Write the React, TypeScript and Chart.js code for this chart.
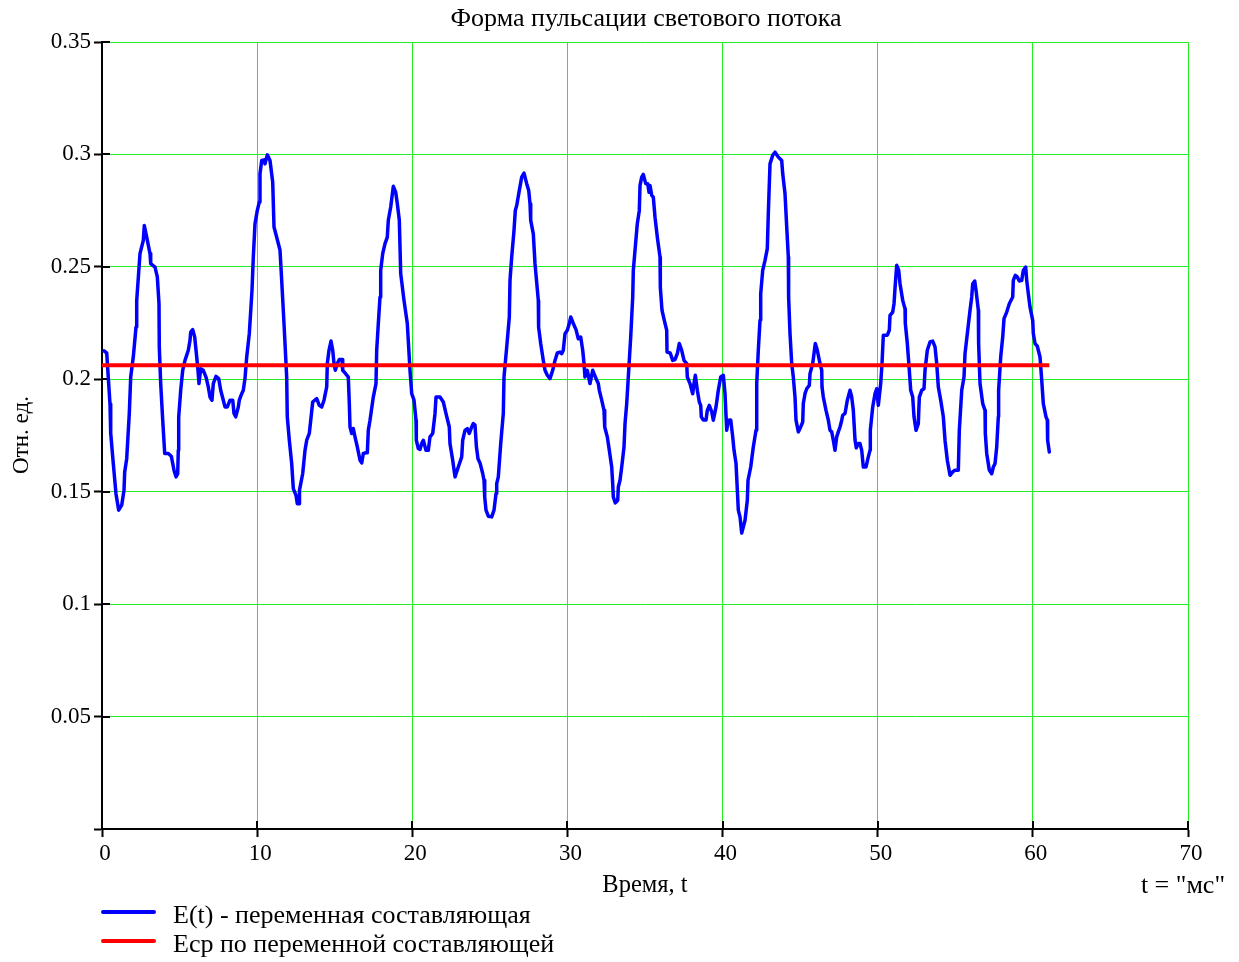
import React, { useEffect, useRef } from "react";
import { Chart, registerables } from "chart.js";

Chart.register(...registerables);

const TITLE = "Форма пульсации светового потока";
const X_TITLE = "Время, t";
const Y_TITLE = "Отн. ед.";
const UNITS_NOTE = 't = "мс"';
const SERIES_LABELS = ["E(t) - переменная составляющая", "Eср по переменной составляющей"];
const X_TICKS = [0, 10, 20, 30, 40, 50, 60, 70];
const Y_TICKS = [0, 0.05, 0.1, 0.15, 0.2, 0.25, 0.3, 0.35];

// time, ms
const T_MS = [
  0.129, 0.303, 0.516, 0.561, 0.728, 0.902, 1.076, 1.27, 1.418, 1.463, 1.592, 1.76, 1.85, 2.018, 2.192, 2.237,
  2.449, 2.662, 2.727, 2.881, 3.094, 3.139, 3.416, 3.565, 3.674, 3.693, 3.784, 3.913, 4.042, 4.274, 4.467, 4.641,
  4.77, 4.879, 4.918, 4.944, 5.073, 5.202, 5.35, 5.563, 5.672, 5.717, 5.846, 5.975, 6.104, 6.188, 6.252, 6.362,
  6.53, 6.704, 6.852, 6.961, 7.09, 7.174, 7.348, 7.522, 7.651, 7.819, 7.928, 8.077, 8.251, 8.425, 8.509, 8.618,
  8.786, 8.85, 9.005, 9.108, 9.217, 9.327, 9.495, 9.669, 9.753, 9.862, 10.01, 10.139, 10.184, 10.294, 10.442, 10.507,
  10.655, 10.829, 11.003, 11.087, 11.473, 11.582, 11.731, 11.904, 11.943, 12.073, 12.228, 12.331, 12.505, 12.589, 12.718, 12.731,
  12.937, 13.085, 13.195, 13.362, 13.581, 13.839, 14.007, 14.162, 14.31, 14.484, 14.523, 14.632, 14.761, 14.871, 14.954, 15.038,
  15.167, 15.296, 15.47, 15.515, 15.663, 15.876, 15.941, 15.986, 16.095, 16.198, 16.308, 16.456, 16.63, 16.74, 16.843, 17.017,
  17.101, 17.165, 17.275, 17.487, 17.661, 17.706, 17.81, 17.919, 17.964, 18.093, 18.242, 18.39, 18.454, 18.609, 18.777, 18.931,
  19.035, 19.164, 19.254, 19.466, 19.679, 19.853, 19.963, 20.111, 20.24, 20.26, 20.389, 20.498, 20.607, 20.711, 20.884, 21.033,
  21.142, 21.316, 21.464, 21.529, 21.787, 22.0, 22.174, 22.386, 22.431, 22.605, 22.754, 22.966, 23.186, 23.25, 23.398, 23.547,
  23.675, 23.83, 23.933, 24.043, 24.133, 24.236, 24.365, 24.539, 24.623, 24.668, 24.752, 24.9, 25.119, 25.268, 25.397, 25.441,
  25.545, 25.7, 25.867, 25.912, 26.087, 26.254, 26.299, 26.409, 26.557, 26.641, 26.731, 26.899, 27.053, 27.201, 27.375, 27.504,
  27.588, 27.633, 27.801, 27.91, 28.123, 28.142, 28.277, 28.445, 28.555, 28.703, 28.877, 29.051, 29.199, 29.347, 29.522, 29.631,
  29.734, 29.844, 29.992, 30.121, 30.211, 30.379, 30.553, 30.701, 30.856, 30.985, 31.069, 31.133, 31.281, 31.455, 31.629, 31.713,
  31.842, 31.99, 32.055, 32.21, 32.358, 32.403, 32.57, 32.699, 32.854, 32.918, 32.957, 33.086, 33.241, 33.28, 33.389, 33.499,
  33.647, 33.712, 33.821, 33.924, 34.079, 34.208, 34.247, 34.356, 34.504, 34.633, 34.679, 34.788, 34.891, 35.046, 35.175, 35.259,
  35.323, 35.433, 35.536, 35.645, 35.794, 35.968, 35.987, 36.096, 36.245, 36.399, 36.419, 36.625, 36.786, 36.934, 37.083, 37.211,
  37.366, 37.515, 37.689, 37.727, 37.901, 38.075, 38.159, 38.243, 38.372, 38.501, 38.591, 38.63, 38.759, 38.933, 39.017, 39.145,
  39.3, 39.403, 39.577, 39.725, 39.88, 40.048, 40.157, 40.267, 40.37, 40.525, 40.654, 40.738, 40.867, 41.015, 41.124, 41.234,
  41.447, 41.595, 41.64, 41.814, 41.981, 42.156, 42.201, 42.304, 42.413, 42.458, 42.587, 42.736, 42.884, 42.948, 43.058, 43.232,
  43.38, 43.593, 43.812, 43.877, 44.025, 44.135, 44.238, 44.257, 44.347, 44.457, 44.56, 44.669, 44.734, 44.882, 45.037, 45.166,
  45.204, 45.314, 45.423, 45.591, 45.636, 45.81, 45.978, 46.107, 46.281, 46.391, 46.41, 46.494, 46.668, 46.816, 46.925, 47.035,
  47.138, 47.248, 47.357, 47.46, 47.57, 47.68, 47.744, 47.892, 48.041, 48.215, 48.324, 48.427, 48.537, 48.621, 48.75, 48.859,
  48.969, 49.072, 49.246, 49.394, 49.504, 49.523, 49.678, 49.826, 49.936, 50.039, 50.193, 50.277, 50.361, 50.619, 50.748, 50.793,
  50.967, 51.051, 51.135, 51.225, 51.354, 51.438, 51.612, 51.76, 51.779, 51.908, 52.037, 52.127, 52.256, 52.34, 52.469, 52.617,
  52.682, 52.836, 52.985, 53.049, 53.197, 53.371, 53.545, 53.693, 53.803, 53.906, 54.061, 54.229, 54.338, 54.486, 54.66, 54.834,
  54.983, 55.196, 55.26, 55.415, 55.563, 55.627, 55.776, 55.95, 56.059, 56.124, 56.253, 56.336, 56.485, 56.504, 56.594, 56.768,
  56.916, 56.935, 57.026, 57.193, 57.348, 57.451, 57.561, 57.67, 57.773, 57.793, 57.928, 58.057, 58.141, 58.315, 58.482, 58.701,
  58.74, 58.869, 58.998, 59.127, 59.282, 59.385, 59.539, 59.604, 59.707, 59.817, 59.991, 60.03, 60.139, 60.288, 60.462, 60.571,
  60.674, 60.848, 60.932, 60.952, 61.061,
];

// E(t), relative units
const E_VALUES = [
  0.2126, 0.2117, 0.189, 0.176, 0.1625, 0.149, 0.1418, 0.144, 0.1507, 0.1588, 0.1647, 0.1848, 0.201, 0.21, 0.2232, 0.235,
  0.2559, 0.2618, 0.2684, 0.2632, 0.2559, 0.2514, 0.2499, 0.2455, 0.2336, 0.2144, 0.198, 0.1818, 0.167, 0.167, 0.1658, 0.1596,
  0.1566, 0.158, 0.1684, 0.1833, 0.1951, 0.204, 0.2084, 0.2129, 0.2173, 0.221, 0.2221, 0.2188, 0.2099, 0.204, 0.1981, 0.2047,
  0.204, 0.201, 0.1966, 0.1921, 0.1907, 0.1981, 0.2013, 0.2003, 0.1951, 0.1907, 0.1877, 0.1877, 0.1907, 0.1907, 0.1848, 0.1833,
  0.1877, 0.1907, 0.1936, 0.1951, 0.2003, 0.2099, 0.2203, 0.2396, 0.2544, 0.2692, 0.2751, 0.2788, 0.2914, 0.2973, 0.2976, 0.2958,
  0.2998, 0.2973, 0.2877, 0.2677, 0.2575, 0.244, 0.2248, 0.201, 0.1833, 0.1729, 0.1625, 0.1514, 0.1484, 0.1447, 0.1447, 0.1507,
  0.1581, 0.1684, 0.1729, 0.1759, 0.1899, 0.1914, 0.1884, 0.1877, 0.1907, 0.1966, 0.207, 0.2129, 0.217, 0.2129, 0.207, 0.204,
  0.207, 0.2088, 0.2088, 0.204, 0.2028, 0.201, 0.1892, 0.1788, 0.1759, 0.1781, 0.1744, 0.1699, 0.164, 0.1628, 0.167, 0.1673,
  0.1673, 0.1773, 0.1818, 0.1921, 0.1981, 0.2129, 0.2248, 0.2366, 0.2484, 0.2559, 0.2603, 0.2632, 0.2707, 0.2766, 0.2858, 0.2832,
  0.2781, 0.2707, 0.247, 0.2351, 0.2248, 0.204, 0.1936, 0.1907, 0.1818, 0.1729, 0.1692, 0.1688, 0.1714, 0.1729, 0.1684, 0.1684,
  0.1744, 0.1759, 0.1847, 0.1921, 0.1921, 0.1899, 0.1847, 0.1788, 0.1714, 0.164, 0.1566, 0.161, 0.1655, 0.1729, 0.1773, 0.1781,
  0.1759, 0.1788, 0.1803, 0.1796, 0.17, 0.1647, 0.1628, 0.1581, 0.1551, 0.1477, 0.1418, 0.1391, 0.1388, 0.1418, 0.1492, 0.1536,
  0.1566, 0.1714, 0.1848, 0.201, 0.2144, 0.2277, 0.244, 0.2544, 0.2662, 0.2751, 0.2773, 0.284, 0.2899, 0.2917, 0.287, 0.284,
  0.2781, 0.2707, 0.2647, 0.2514, 0.2351, 0.2232, 0.2159, 0.2084, 0.204, 0.2018, 0.2003, 0.204, 0.2084, 0.2117, 0.2121, 0.2114,
  0.2129, 0.2203, 0.2218, 0.2248, 0.2277, 0.2248, 0.2221, 0.218, 0.2188, 0.2129, 0.207, 0.201, 0.204, 0.1981, 0.204, 0.2025,
  0.2003, 0.1981, 0.1951, 0.1907, 0.1862, 0.1788, 0.1744, 0.1684, 0.161, 0.1536, 0.1477, 0.145, 0.1462, 0.1521, 0.1551, 0.161,
  0.1699, 0.1803, 0.1892, 0.201, 0.2188, 0.2366, 0.2484, 0.2573, 0.2692, 0.2751, 0.2862, 0.2899, 0.2911, 0.287, 0.287, 0.2832,
  0.2862, 0.2818, 0.281, 0.2721, 0.2632, 0.2544, 0.241, 0.2307, 0.2262, 0.2218, 0.2121, 0.2117, 0.2084, 0.2088, 0.2114, 0.2159,
  0.2129, 0.2084, 0.207, 0.201, 0.1981, 0.1936, 0.1981, 0.2018, 0.1951, 0.1899, 0.1884, 0.1833, 0.1819, 0.1819, 0.1862, 0.1884,
  0.1855, 0.1818, 0.1877, 0.1951, 0.201, 0.2018, 0.1936, 0.1773, 0.1818, 0.1819, 0.1744, 0.1684, 0.1625, 0.1418, 0.1388, 0.1316,
  0.1373, 0.1462, 0.1551, 0.161, 0.1699, 0.1773, 0.1981, 0.2129, 0.2262, 0.2381, 0.2484, 0.2529, 0.2581, 0.2736, 0.2958, 0.2996,
  0.301, 0.2988, 0.2973, 0.2914, 0.2825, 0.2677, 0.2544, 0.2366, 0.2203, 0.207, 0.201, 0.1921, 0.1818, 0.1766, 0.1788, 0.181,
  0.1892, 0.1936, 0.1958, 0.1973, 0.2025, 0.207, 0.2159, 0.2129, 0.207, 0.204, 0.1966, 0.1921, 0.1862, 0.1818, 0.1773, 0.1766,
  0.1729, 0.1684, 0.1744, 0.1766, 0.1788, 0.1818, 0.184, 0.1848, 0.1907, 0.1951, 0.1921, 0.1862, 0.173, 0.1695, 0.1714, 0.1714,
  0.1684, 0.161, 0.161, 0.1655, 0.1684, 0.1773, 0.1877, 0.1936, 0.1958, 0.1884, 0.1981, 0.207, 0.2196, 0.2196, 0.2218, 0.2284,
  0.2299, 0.2336, 0.2425, 0.2507, 0.2484, 0.2425, 0.2351, 0.2314, 0.2248, 0.2159, 0.204, 0.1951, 0.1921, 0.1833, 0.1773, 0.1803,
  0.1921, 0.1951, 0.1958, 0.204, 0.2129, 0.2166, 0.217, 0.2144, 0.207, 0.1966, 0.1907, 0.1833, 0.1729, 0.164, 0.1573, 0.1588,
  0.1596, 0.1596, 0.1773, 0.1951, 0.201, 0.2114, 0.2203, 0.2307, 0.2366, 0.2425, 0.2437, 0.2396, 0.2307, 0.2159, 0.1981, 0.1892,
  0.1862, 0.1759, 0.167, 0.1596, 0.158, 0.161, 0.1625, 0.1699, 0.1833, 0.1951, 0.2099, 0.2188, 0.227, 0.2299, 0.2336, 0.2366,
  0.244, 0.2462, 0.2455, 0.2437, 0.244, 0.2484, 0.2499, 0.244, 0.2381, 0.2321, 0.2262, 0.2203, 0.2159, 0.2147, 0.2099, 0.1996,
  0.1892, 0.1833, 0.1818, 0.1729, 0.1677,
];

// mean level of the variable component
const MEAN_T = [0, 61.061];
const MEAN_E = [0.2062, 0.2062];

const FONT = '"Liberation Serif", "Times New Roman", serif';

const decorPlugin = {
  id: "decor",
  beforeDatasetsDraw(chart: any) {
    const ctx = chart.ctx;
    const xs = chart.scales.x;
    const ys = chart.scales.y;
    const area = chart.chartArea;
    ctx.save();
    ctx.strokeStyle = "#000";
    ctx.lineWidth = 2;
    ctx.beginPath();
    ys.ticks.forEach((t: any) => {
      const y = Math.round(ys.getPixelForValue(t.value));
      ctx.moveTo(area.left, y);
      ctx.lineTo(area.left + 8, y);
    });
    xs.ticks.forEach((t: any) => {
      const x = Math.round(xs.getPixelForValue(t.value));
      ctx.moveTo(x, area.bottom);
      ctx.lineTo(x, area.bottom - 8);
    });
    ctx.stroke();
    ctx.restore();
  },
  afterDraw(chart: any) {
    const ctx = chart.ctx;
    const area = chart.chartArea;
    ctx.save();
    ctx.fillStyle = "#000";
    ctx.textBaseline = "middle";
    ctx.textAlign = "center";
    ctx.font = `26px ${FONT}`;
    ctx.fillText(TITLE, (area.left + area.right) / 2 + 1, 19);
    ctx.font = `24.5px ${FONT}`;
    ctx.fillText(X_TITLE, (area.left + area.right) / 2, 886);
    ctx.font = `26px ${FONT}`;
    ctx.textAlign = "right";
    ctx.fillText(UNITS_NOTE, 1225, 886);
    ctx.save();
    ctx.font = `23px ${FONT}`;
    ctx.translate(22, 435);
    ctx.rotate(-Math.PI / 2);
    ctx.textAlign = "center";
    ctx.fillText(Y_TITLE, 0, 0);
    ctx.restore();
    // legend
    const colors = chart.data.datasets.map((d: any) => d.borderColor);
    const rows = [912, 941];
    ctx.font = `26px ${FONT}`;
    SERIES_LABELS.forEach((label, i) => {
      ctx.strokeStyle = colors[i];
      ctx.lineWidth = 4;
      ctx.lineCap = "round";
      ctx.beginPath();
      ctx.moveTo(103, rows[i]);
      ctx.lineTo(154, rows[i]);
      ctx.stroke();
      ctx.textAlign = "left";
      ctx.fillText(label, 173, rows[i] + 4);
    });
    ctx.restore();
  },
};

export default function App() {
  const ref = useRef<HTMLCanvasElement | null>(null);

  useEffect(() => {
    if (!ref.current) return;
    const chart = new Chart(ref.current, {
      type: "line",
      data: {
        datasets: [
          {
            label: SERIES_LABELS[0],
            data: T_MS.map((t, i) => ({ x: t, y: E_VALUES[i] })),
            borderColor: "#0000ff",
            borderWidth: 3.5,
            pointRadius: 0,
            tension: 0,
            borderJoinStyle: "round",
            borderCapStyle: "round",
            order: 1,
          },
          {
            label: SERIES_LABELS[1],
            data: MEAN_T.map((t, i) => ({ x: t, y: MEAN_E[i] })),
            borderColor: "#ff0000",
            borderWidth: 4,
            pointRadius: 0,
            tension: 0,
            order: 0,
          },
        ],
      },
      options: {
        animation: false,
        responsive: false,
        devicePixelRatio: 1,
        layout: { padding: { left: 42, top: 42, right: 51, bottom: 73 } },
        plugins: {
          legend: { display: false },
          title: { display: false },
          tooltip: { enabled: false },
        },
        scales: {
          x: {
            type: "linear",
            min: 0,
            max: 70,
            afterFit: (s: any) => {
              s.height = 60;
            },
            afterBuildTicks: (s: any) => {
              s.ticks = X_TICKS.map((v) => ({ value: v }));
            },
            ticks: {
              color: "#000",
              font: { family: FONT, size: 23 },
              padding: 3,
              labelOffset: 3,
              maxRotation: 0,
              callback: (v: any) => String(v),
            },
            grid: {
              color: (c: any) => (c.tick && c.tick.value === 0 ? "rgba(0,0,0,0)" : "#22ee22"),
              lineWidth: 1,
              tickColor: "#000",
              tickLength: 8,
              tickWidth: 2,
            },
            border: { color: "#000", width: 2 },
          },
          y: {
            type: "linear",
            min: 0,
            max: 0.35,
            afterFit: (s: any) => {
              s.width = 60;
            },
            afterBuildTicks: (s: any) => {
              s.ticks = Y_TICKS.map((v) => ({ value: v }));
            },
            ticks: {
              color: "#000",
              font: { family: FONT, size: 23 },
              padding: 3,
              callback: (v: any) => (v === 0 ? "" : String(+Number(v).toFixed(2))),
            },
            grid: {
              color: (c: any) => (c.tick && c.tick.value === 0 ? "rgba(0,0,0,0)" : "#22ee22"),
              lineWidth: 1,
              tickColor: "#000",
              tickLength: 8,
              tickWidth: 2,
            },
            border: { color: "#000", width: 2 },
          },
        },
      },
      plugins: [decorPlugin],
    });
    return () => chart.destroy();
  }, []);

  return (
    <div style={{ position: "absolute", left: 0, top: 0, width: 1239, height: 962, background: "#fff" }}>
      <canvas ref={ref} width={1239} height={962} style={{ width: 1239, height: 962 }} />
    </div>
  );
}
